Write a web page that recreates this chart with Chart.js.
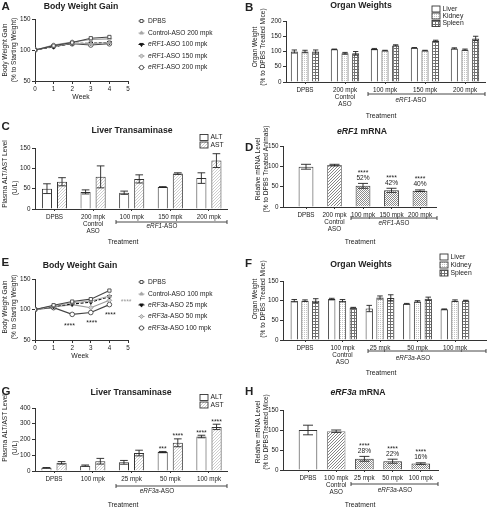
<!DOCTYPE html>
<html>
<head>
<meta charset="utf-8">
<title>ASO toxicity panels</title>
<script src="https://cdn.jsdelivr.net/npm/chart.js@4.4.1/dist/chart.umd.min.js"></script>
<style>
  html, body { margin: 0; padding: 0; background: #fff; }
  #fig { position: relative; width: 487px; height: 508px; overflow: hidden; }
  #fig canvas { position: absolute; left: 0; top: 0; }
</style>
</head>
<body>
<div id="fig"></div>
<script>
// ---------- data ----------
const weeks = [0, 1, 2, 3, 4];

// A: body weight gain, eRF1 study (% to starting weight)
const aNames = ['DPBS', 'Control-ASO 200 mpk', '_eRF1_-ASO 100 mpk', '_eRF1_-ASO 150 mpk', '_eRF1_-ASO 200 mpk'];
const aDPBS = [100, 107, 112, 119, 121];
const aCtrl = [100, 106, 111, 110, 112];
const aAso100 = [100, 105, 111, 111, 112];
const aAso150 = [100, 108, 113, 117, 118];
const aAso200 = [100, 106, 110, 108, 110];

// E: body weight gain, eRF3a study
const eNames = ['DPBS', 'Control-ASO 100 mpk', '_eRF3a_-ASO 25 mpk', '_eRF3a_-ASO 50 mpk', '_eRF3a_-ASO 100 mpk'];
const eDPBS = [100, 107, 113, 117, 131];
const eCtrl = [100, 106, 111, 114, 122];
const eAso25 = [100, 105, 109, 112, 121];
const eAso50 = [100, 104, 108, 103, 115];
const eAso100 = [100, 103, 92, 95, 108];
const eStarWeek = [1.85, 3.05, 4.05, 4.9];
const eStarLevel = [76, 81, 94, 115];

// B: organ weights, eRF1 study
const organNames = ['Liver', 'Kidney', 'Spleen'];
const bGroups = ['DPBS', ['200 mpk', 'Control', 'ASO'], '100 mpk', '150 mpk', '200 mpk'];
const bLiver = [100, 107, 108, 112, 110];
const bLiverErr = [5, 1, 2, 1, 2];
const bKidney = [100, 94, 103, 103, 106];
const bKidneyErr = [4, 3, 1, 1, 2];
const bSpleen = [100, 94, 120, 135, 143];
const bSpleenErr = [5, 6, 2, 2, 7];

// C: liver transaminases, eRF1 study (U/L)
const enzNames = ['ALT', 'AST'];
const cGroups = ['DPBS', ['200 mpk', 'Control', 'ASO'], '100 mpk', '150 mpk', '200 mpk'];
const cALT = [50, 42, 40, 54, 76];
const cALTErr = [12, 5, 4, 1, 13];
const cAST = [67, 79, 74, 87, 119];
const cASTErr = [10, 27, 10, 2, 17];

// D: eRF1 mRNA (% to DPBS)
const dGroups = ['DPBS', ['200 mpk', 'Control', 'ASO'], '100 mpk', '150 mpk', '200 mpk'];
const dMrna = [99, 103, 52, 41, 40];
const dMrnaErr = [6, 2, 6, 5, 2];
const dStars = ['', '', '****', '****', '****'];
const dPct = ['', '', '52%', '42%', '40%'];

// F: organ weights, eRF3a study
const fGroups = ['DPBS', ['100 mpk', 'Control', 'ASO'], '25 mpk', '50 mpk', '100 mpk'];
const fLiver = [100, 104, 80, 92, 78];
const fLiverErr = [3, 2, 8, 1, 1];
const fKidney = [100, 100, 108, 98, 100];
const fKidneyErr = [2, 3, 4, 2, 2];
const fSpleen = [100, 82, 107, 105, 100];
const fSpleenErr = [5, 1, 8, 4, 1];

// G: liver transaminases, eRF3a study
const gGroups = ['DPBS', '100 mpk', '25 mpk', '50 mpk', '100 mpk'];
const gALT = [20, 34, 55, 120, 219];
const gALTErr = [2, 4, 12, 4, 8];
const gAST = [52, 62, 114, 179, 280];
const gASTErr = [8, 18, 18, 25, 17];
const gALTStars = ['', '', '', '***', '****'];
const gASTStars = ['', '', '', '****', '****'];

// H: eRF3a mRNA
const hGroups = ['DPBS', ['100 mpk', 'Control', 'ASO'], '25 mpk', '50 mpk', '100 mpk'];
const hMrna = [100, 97, 28, 22, 16];
const hMrnaErr = [12, 3, 6, 5, 2];
const hStars = ['', '', '****', '****', '****'];
const hPct = ['', '', '28%', '22%', '16%'];

// ---------- drawing setup ----------
const FONT = "'Liberation Sans', Arial, Helvetica, sans-serif";
const INK = '#222';
const AXIS = '#333';
const W = 487, H = 508, YW = 22, XH = 30;
Chart.defaults.font.family = FONT;
const fig = document.getElementById('fig');

function mkCanvas() {
  const c = document.createElement('canvas');
  c.width = W; c.height = H;
  fig.appendChild(c);
  return c;
}

function pat(size, draw) {
  const c = document.createElement('canvas');
  c.width = c.height = size;
  const x = c.getContext('2d');
  x.fillStyle = '#fff';
  x.fillRect(0, 0, size, size);
  draw(x);
  return x.createPattern(c, 'repeat');
}
const patDots = pat(2, x => { x.fillStyle = '#c4c4c4'; x.fillRect(0, 0, 1, 1); });
const patGrid = pat(3, x => { x.fillStyle = '#707070'; x.fillRect(0, 0, 3, 1); x.fillRect(0, 0, 1, 3); });
const patLight = pat(3, x => { x.fillStyle = '#cdcdcd'; for (let i = 0; i < 3; i++) x.fillRect(i, 2 - i, 1, 1); });
const patHatch = pat(3, x => { x.fillStyle = '#858585'; for (let i = 0; i < 3; i++) x.fillRect(i, 2 - i, 1, 1); });
const patCheck = pat(2, x => { x.fillStyle = '#8c8c8c'; x.fillRect(0, 0, 1, 1); x.fillRect(1, 1, 1, 1); });

// text with _italic_ parts
function txt(ctx, s, x, y, size, o = {}) {
  const parts = String(s).split('_');
  const b = o.bold ? 'bold ' : '';
  const fonts = parts.map((p, i) => (i % 2 ? 'italic ' : '') + b + size + 'px ' + FONT);
  let w = 0;
  parts.forEach((p, i) => { ctx.font = fonts[i]; w += ctx.measureText(p).width; });
  let cx = o.align === 'left' ? x : o.align === 'right' ? x - w : x - w / 2;
  ctx.textAlign = 'left';
  ctx.textBaseline = 'middle';
  ctx.fillStyle = o.color || INK;
  parts.forEach((p, i) => { ctx.font = fonts[i]; ctx.fillText(p, cx, y); cx += ctx.measureText(p).width; });
}
function vtxt(ctx, s, x, y, size) {
  ctx.save();
  ctx.translate(x, y);
  ctx.rotate(-Math.PI / 2);
  txt(ctx, s, 0, 0, size);
  ctx.restore();
}
function bracket(ctx, x1, x2, y) {
  ctx.strokeStyle = AXIS;
  ctx.lineWidth = 0.9;
  ctx.beginPath();
  ctx.moveTo(x1, y); ctx.lineTo(x2, y);
  ctx.moveTo(x1, y - 2); ctx.lineTo(x1, y + 2);
  ctx.moveTo(x2, y - 2); ctx.lineTo(x2, y + 2);
  ctx.stroke();
}
function decor(fn) {
  return { id: 'decor', afterDraw(chart) { const ctx = chart.ctx; ctx.save(); fn(ctx, chart); ctx.restore(); } };
}

const tickFont = () => ({ family: FONT, size: 6.3, lineHeight: 1.15 });
function yScale(min, max, step) {
  return {
    min, max,
    ticks: { stepSize: step, font: tickFont(), color: INK, padding: 1.5 },
    grid: { drawOnChartArea: false, tickLength: 3, color: AXIS },
    border: { color: AXIS, width: 1 },
    afterFit(s) { s.width = YW; s.paddingTop = 0; s.paddingBottom = 0; }
  };
}
function xScale(min, max, labelOf, tickLen, pad) {
  return {
    type: 'linear', offset: false, min, max,
    ticks: { stepSize: 1, includeBounds: false, autoSkip: false, maxRotation: 0, minRotation: 0,
      font: tickFont(), color: INK, padding: pad,
      callback: v => labelOf(v) },
    grid: { offset: false, drawOnChartArea: false, tickLength: tickLen, color: AXIS },
    border: { color: AXIS, width: 1 },
    afterFit(s) { s.height = XH; s.paddingLeft = 0; s.paddingRight = 0; }
  };
}
function baseOptions(p, scales) {
  return {
    responsive: false, animation: false, devicePixelRatio: 1,
    layout: { padding: { left: p.l - YW, top: p.t, right: W - p.r, bottom: H - p.b - XH } },
    plugins: { legend: { display: false }, tooltip: { enabled: false } },
    scales
  };
}

function drawHead(ctx, h) {
  txt(ctx, h.letter[0], h.letter[1], h.letter[2], 11.5, { bold: true, align: 'left' });
  txt(ctx, h.title[0], h.title[1], h.title[2], 8.7, { bold: true });
  vtxt(ctx, h.ytitle[0][0], h.ytitle[0][1], h.ytitle[0][2], 6.6);
  vtxt(ctx, h.ytitle[1][0], h.ytitle[1][1], h.ytitle[1][2], 6.6);
  txt(ctx, h.xtitle[0], h.xtitle[1], h.xtitle[2], 6.8);
}

// ---------- line panels ----------
const lineLooks = [
  { color: '#444', style: 'rect', fill: '#fff', dash: [] },
  { color: '#a8a8a8', style: 'triangle', fill: '#a8a8a8', dash: [] },
  { color: '#111', style: 'triangle', rot: 180, fill: '#111', dash: [3, 1.6] },
  { color: '#999', style: 'rectRot', fill: '#cfcfcf', dash: [] },
  { color: '#444', style: 'circle', fill: '#fff', dash: [] }
];

function linePanel(cfg) {
  const datasets = cfg.series.map((s, i) => {
    const lk = lineLooks[i];
    return {
      label: cfg.names[i],
      data: weeks.map((w, k) => ({ x: w, y: s[k] })),
      borderColor: lk.color, backgroundColor: lk.fill, borderWidth: 1.1, borderDash: lk.dash,
      pointStyle: lk.style, pointRotation: lk.rot || 0, pointRadius: 2.3, pointBorderWidth: 0.9,
      pointBackgroundColor: lk.fill, pointBorderColor: lk.color, tension: 0
    };
  });
  const p = cfg.plot;
  new Chart(mkCanvas(), {
    type: 'line',
    data: { datasets },
    options: baseOptions(p, {
      x: xScale(0, 5, v => String(v), 3, 1.5),
      y: yScale(50, 150, 50)
    }),
    plugins: [decor((ctx, chart) => {
      drawHead(ctx, cfg.head);
      chart.data.datasets.forEach((ds, i) => {
        const y = cfg.legendRows[i], x = cfg.legendX;
        ctx.strokeStyle = ds.borderColor;
        ctx.lineWidth = 1;
        ctx.setLineDash(ds.borderDash);
        ctx.beginPath(); ctx.moveTo(x - 3, y); ctx.lineTo(x + 3, y); ctx.stroke();
        ctx.setLineDash([]);
        ctx.fillStyle = ds.pointBackgroundColor;
        ctx.strokeStyle = ds.pointBorderColor;
        ctx.lineWidth = 0.9;
        Chart.helpers.drawPoint(ctx, { pointStyle: ds.pointStyle, rotation: ds.pointRotation, radius: 2.1, borderWidth: 0.9 }, x, y);
        txt(ctx, cfg.names[i], x + 6.5, y, 6.6, { align: 'left' });
      });
      if (cfg.stars) {
        const xs = chart.scales.x, ys = chart.scales.y;
        cfg.stars.weeks.forEach((w, i) => {
          txt(ctx, '****', xs.getPixelForValue(w), ys.getPixelForValue(cfg.stars.levels[i]) + 1.5, 7,
            { color: i === cfg.stars.weeks.length - 1 ? '#9a9a9a' : INK });
        });
      }
    })]
  });
}

linePanel({
  plot: { l: 35, r: 128, t: 19, b: 81 },
  series: [aDPBS, aCtrl, aAso100, aAso150, aAso200],
  names: aNames,
  legendX: 141.5, legendRows: [21, 33, 44.5, 56, 67.5],
  head: {
    letter: ['A', 1.5, 6.5], title: ['Body Weight Gain', 81, 6.5],
    ytitle: [['Body Weight Gain', 5.5, 50], ['(% to Starting Weight)', 14, 50]],
    xtitle: ['Week', 81, 97]
  }
});
linePanel({
  plot: { l: 35, r: 128, t: 279, b: 340 },
  series: [eDPBS, eCtrl, eAso25, eAso50, eAso100],
  names: eNames,
  legendX: 141.5, legendRows: [282, 294, 305, 316.5, 328],
  stars: { weeks: eStarWeek, levels: eStarLevel },
  head: {
    letter: ['E', 1.5, 262.5], title: ['Body Weight Gain', 80, 266],
    ytitle: [['Body Weight Gain', 5.5, 307], ['(% to Starting Weight)', 14, 307]],
    xtitle: ['Week', 80, 356]
  }
});

// ---------- bar panels ----------
function barPanel(cfg) {
  const p = cfg.plot;
  const datasets = cfg.series.map((s, i) => ({
    label: cfg.names ? cfg.names[i] : '',
    data: s.map((v, k) => ({ x: k, y: v })),
    errors: cfg.errs[i],
    marks: cfg.marks ? cfg.marks[i] : null,
    pct: cfg.pct ? cfg.pct[i] : null,
    backgroundColor: cfg.fills[i], borderColor: cfg.borders[i], borderWidth: 1,
    categoryPercentage: cfg.cat, barPercentage: cfg.bar
  }));
  new Chart(mkCanvas(), {
    type: 'bar',
    data: { datasets },
    options: baseOptions(p, {
      x: xScale(-(cfg.c0 - p.l) / cfg.step, (p.r - cfg.c0) / cfg.step,
        v => Number.isInteger(v) && cfg.groups[v] !== undefined ? cfg.groups[v] : '', 2, 2.5),
      y: yScale(0, cfg.ymax, cfg.ystep)
    }),
    plugins: [decor((ctx, chart) => {
      const ys = chart.scales.y;
      // error bars and significance marks
      chart.data.datasets.forEach((ds, di) => {
        chart.getDatasetMeta(di).data.forEach((el, i) => {
          const v = ds.data[i].y, e = ds.errors[i];
          const top = ys.getPixelForValue(v + e), bot = ys.getPixelForValue(v - e);
          const hw = Math.min(5, el.width * 0.38);
          ctx.strokeStyle = INK;
          ctx.lineWidth = 0.9;
          ctx.beginPath();
          ctx.moveTo(el.x, top); ctx.lineTo(el.x, bot);
          ctx.moveTo(el.x - hw, top); ctx.lineTo(el.x + hw, top);
          ctx.moveTo(el.x - hw, bot); ctx.lineTo(el.x + hw, bot);
          ctx.stroke();
          if (ds.pct && ds.pct[i]) {
            txt(ctx, ds.pct[i], el.x, top - 5.5, 6.6);
            txt(ctx, ds.marks[i], el.x, top - 10.5, 6.8);
          } else if (ds.marks && ds.marks[i]) {
            txt(ctx, ds.marks[i], el.x, top - 2.5, 6.8);
          }
        });
      });
      drawHead(ctx, cfg.head);
      if (cfg.legend) {
        const lg = cfg.legend;
        chart.data.datasets.forEach((ds, i) => {
          const y = lg.rows[i];
          ctx.fillStyle = ds.backgroundColor;
          ctx.fillRect(lg.x, y - 3, 8, 6);
          ctx.strokeStyle = AXIS;
          ctx.lineWidth = 0.9;
          ctx.strokeRect(lg.x, y - 3, 8, 6);
          txt(ctx, ds.label, lg.x + 10.5, y, 6.8, { align: 'left' });
        });
      }
      const br = cfg.bracket;
      bracket(ctx, br.x1, br.x2, br.y);
      txt(ctx, br.label, br.lx, br.ly, 6.3);
    })]
  });
}

const border3 = [AXIS, AXIS, AXIS];
barPanel({
  plot: { l: 286, r: 485, t: 21, b: 82 }, c0: 305, step: 40, cat: 0.8, bar: 0.66,
  ymax: 200, ystep: 50, groups: bGroups,
  series: [bLiver, bKidney, bSpleen], errs: [bLiverErr, bKidneyErr, bSpleenErr],
  names: organNames, fills: ['#fff', patDots, patGrid], borders: border3,
  legend: { x: 432, rows: [9, 16, 23.5] },
  bracket: { x1: 368, x2: 485, y: 94, label: '_eRF1_-ASO', lx: 411, ly: 100.5 },
  head: {
    letter: ['B', 245, 7.5], title: ['Organ Weights', 361, 6],
    ytitle: [['Organ Weight', 255.5, 47], ['(% to DPBS Treated Mice)', 263, 47]],
    xtitle: ['Treatment', 381, 116]
  }
});
barPanel({
  plot: { l: 35, r: 227, t: 148, b: 209 }, c0: 54.5, step: 38.6, cat: 0.78, bar: 0.67,
  ymax: 150, ystep: 50, groups: cGroups,
  series: [cALT, cAST], errs: [cALTErr, cASTErr],
  names: enzNames, fills: ['#fff', patLight], borders: [AXIS, AXIS],
  legend: { x: 200, rows: [137.5, 145] },
  bracket: { x1: 116, x2: 227, y: 222, label: '_eRF1_-ASO', lx: 162, ly: 226.5 },
  head: {
    letter: ['C', 1.5, 126.5], title: ['Liver Transaminase', 132, 131],
    ytitle: [['Plasma ALT/AST Level', 5.5, 174], ['(U/L)', 15.5, 188]],
    xtitle: ['Treatment', 123, 242.5]
  }
});
barPanel({
  plot: { l: 283, r: 436, t: 146, b: 207 }, c0: 306, step: 28.5, cat: 1, bar: 0.52,
  ymax: 150, ystep: 50, groups: dGroups,
  series: [dMrna], errs: [dMrnaErr], marks: [dStars], pct: [dPct],
  fills: [['#fff', patHatch, patCheck, patCheck, patCheck]],
  borders: [[AXIS, '#7a7a7a', AXIS, AXIS, AXIS]],
  bracket: { x1: 351, x2: 437, y: 218, label: '_eRF1_-ASO', lx: 394, ly: 223.5 },
  head: {
    letter: ['D', 245, 147.5], title: ['_eRF1_ mRNA', 362, 132],
    ytitle: [['Relative mRNA Level', 258.5, 169], ['(% to DPBS Treated Animals)', 266, 169]],
    xtitle: ['Treatment', 360, 242]
  }
});
barPanel({
  plot: { l: 283, r: 486, t: 281, b: 340 }, c0: 305, step: 37.5, cat: 0.86, bar: 0.68,
  ymax: 150, ystep: 50, groups: fGroups,
  series: [fLiver, fKidney, fSpleen], errs: [fLiverErr, fKidneyErr, fSpleenErr],
  names: organNames, fills: ['#fff', patDots, patGrid], borders: border3,
  legend: { x: 440, rows: [257, 265, 273] },
  bracket: { x1: 368, x2: 486, y: 351, label: '_eRF3a_-ASO', lx: 413, ly: 358.5 },
  head: {
    letter: ['F', 245, 264], title: ['Organ Weights', 361, 265],
    ytitle: [['Organ Weight', 255.5, 299], ['(% to DPBS Treated Mice)', 263, 299]],
    xtitle: ['Treatment', 381, 373]
  }
});
barPanel({
  plot: { l: 35, r: 227, t: 408, b: 471 }, c0: 54, step: 38.75, cat: 0.78, bar: 0.67,
  ymax: 400, ystep: 100, groups: gGroups,
  series: [gALT, gAST], errs: [gALTErr, gASTErr], marks: [gALTStars, gASTStars],
  names: enzNames, fills: ['#fff', patLight], borders: [AXIS, AXIS],
  legend: { x: 200, rows: [397.5, 405] },
  bracket: { x1: 116, x2: 227, y: 486, label: '_eRF3a_-ASO', lx: 157, ly: 491 },
  head: {
    letter: ['G', 1.5, 391.5], title: ['Liver Transaminase', 131, 393],
    ytitle: [['Plasma ALT/AST Level', 5.5, 428], ['(U/L)', 15.5, 448]],
    xtitle: ['Treatment', 123, 505]
  }
});
barPanel({
  plot: { l: 283, r: 438, t: 410, b: 470 }, c0: 308, step: 28.2, cat: 1, bar: 0.66,
  ymax: 150, ystep: 50, groups: hGroups,
  series: [hMrna], errs: [hMrnaErr], marks: [hStars], pct: [hPct],
  fills: [['#fff', patHatch, patCheck, patCheck, patCheck]],
  borders: [[AXIS, '#7a7a7a', AXIS, AXIS, AXIS]],
  bracket: { x1: 351, x2: 438, y: 484, label: '_eRF3a_-ASO', lx: 395, ly: 490 },
  head: {
    letter: ['H', 245, 391.5], title: ['_eRF3a_ mRNA', 358, 393],
    ytitle: [['Relative mRNA Level', 258.5, 432], ['(% to DPBSTreated Mice)', 266, 432]],
    xtitle: ['Treatment', 360, 505]
  }
});
</script>
</body>
</html>
